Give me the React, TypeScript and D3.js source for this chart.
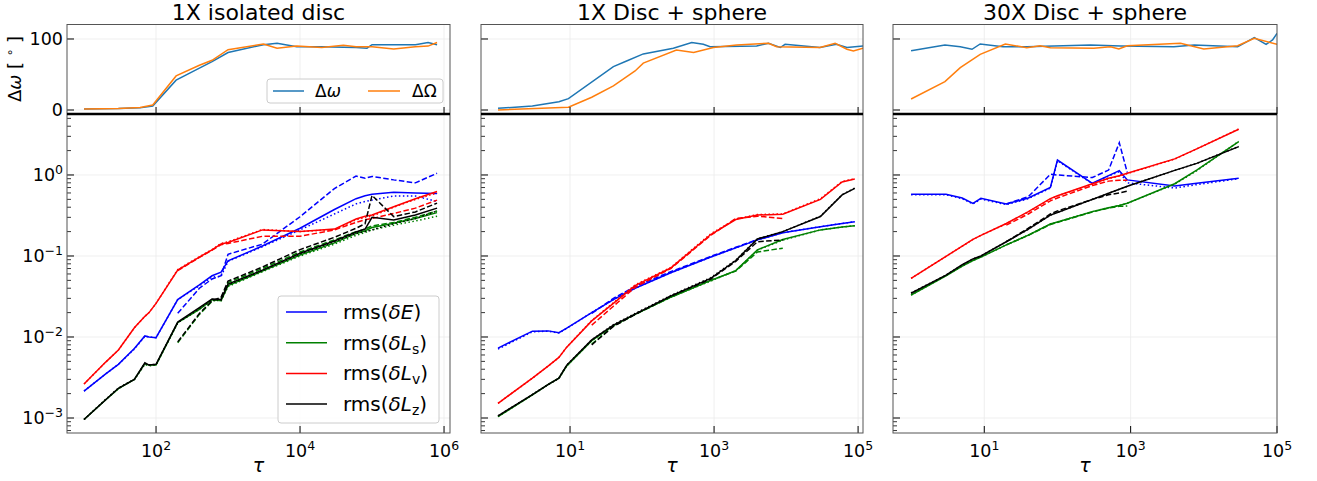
import React from 'react'
import * as d3 from 'd3'

// ---- data: panel 1 (1X isolated disc) ----
const tau1 = [10, 20, 30, 50, 70, 80, 100, 200, 400, 600, 800, 1000, 3000, 1e4, 3e4, 6e4, 8e4, 1e5, 2e5, 4e5, 8e5]
const E1 = [2.15e-3, 3.5e-3, 4.6e-3, 7.2e-3, 1.03e-2, 1.0e-2, 9.8e-3, 2.9e-2, 4.4e-2, 5.7e-2, 6.3e-2, 8.7e-2, 0.133, 0.22, 0.375, 0.51, 0.555, 0.58, 0.61, 0.6, 0.59]
const E1d = [null, null, null, null, null, null, null, 0.0196, 0.04, 0.052, 0.057, 0.105, 0.14, 0.305, 0.68, 0.97, 0.91, 0.96, 0.87, 0.8, 1.05]
const E1t = [2.15e-3, 3.5e-3, 4.6e-3, 7.1e-3, 1.02e-2, 1.0e-2, 9.8e-3, 2.9e-2, 4.3e-2, 5.5e-2, 5.6e-2, 8.6e-2, 0.13, 0.21, 0.33, 0.44, 0.47, 0.49, 0.55, 0.55, 0.47]
const S1 = [9.6e-4, 1.68e-3, 2.3e-3, 3.0e-3, 4.7e-3, 4.5e-3, 4.5e-3, 1.5e-2, 2.2e-2, 2.9e-2, 2.8e-2, 4.3e-2, 6.5e-2, 0.103, 0.145, 0.19, 0.205, 0.225, 0.253, 0.29, 0.343]
const S1d = [null, null, null, null, null, null, null, 8.5e-3, 1.9e-2, 2.75e-2, 3.0e-2, 4.7e-2, 7.0e-2, 0.112, 0.158, 0.2, 0.215, 0.235, 0.26, 0.3, 0.36]
const S1t = [9.6e-4, 1.68e-3, 2.3e-3, 3.0e-3, 4.6e-3, 4.4e-3, 4.5e-3, 1.5e-2, 2.2e-2, 2.85e-2, 2.8e-2, 4.2e-2, 6.4e-2, 0.1, 0.14, 0.18, 0.195, 0.21, 0.24, 0.27, 0.31]
const V1 = [2.63e-3, 4.9e-3, 6.9e-3, 1.3e-2, 1.8e-2, 2.0e-2, 2.6e-2, 6.7e-2, 9.7e-2, 0.119, 0.141, 0.147, 0.21, 0.2, 0.215, 0.286, 0.31, 0.32, 0.406, 0.51, 0.625]
const V1d = [null, null, null, null, null, null, null, 0.066, 0.096, 0.118, 0.138, 0.143, 0.175, 0.175, 0.21, 0.26, 0.28, 0.29, 0.335, 0.39, 0.49]
const V1t = [2.63e-3, 4.9e-3, 6.9e-3, 1.3e-2, 1.8e-2, 2.0e-2, 2.6e-2, 6.8e-2, 9.8e-2, 0.12, 0.143, 0.15, 0.212, 0.2, 0.212, 0.28, 0.3, 0.31, 0.4, 0.5, 0.6]
const Z1 = [9.6e-4, 1.68e-3, 2.33e-3, 3.0e-3, 4.8e-3, 4.5e-3, 4.6e-3, 1.53e-2, 2.3e-2, 2.95e-2, 2.9e-2, 4.5e-2, 6.7e-2, 0.108, 0.153, 0.198, 0.215, 0.3, 0.278, 0.32, 0.39]
const Z1d = [null, null, null, null, null, null, null, 8.7e-3, 1.95e-2, 2.8e-2, 3.1e-2, 4.9e-2, 7.3e-2, 0.12, 0.17, 0.22, 0.25, 0.56, 0.306, 0.35, 0.45]
const Z1t = [9.6e-4, 1.7e-3, 2.35e-3, 3.0e-3, 4.7e-3, 4.5e-3, 4.6e-3, 1.5e-2, 2.25e-2, 2.9e-2, 2.85e-2, 4.4e-2, 6.6e-2, 0.106, 0.15, 0.19, 0.2, 0.21, 0.25, 0.29, 0.36]

const tauTop1 = [10, 30, 60, 90, 190, 400, 600, 1000, 3100, 4800, 9000, 2e4, 4e4, 6e4, 8.5e4, 1e5, 2e5, 4e5, 6e5, 8e5]
const dw1 = [1.5, 2, 3, 5.6, 42, 59, 68, 81, 92, 94, 89, 89, 88.5, 88, 87, 92, 92, 92, 95, 92]
const dO1 = [1.5, 2, 3.5, 7, 48, 63, 70, 85, 93, 87, 90, 88, 91, 89, 89, 89, 86, 89, 90, 95]

// ---- data: panel 2 (1X Disc + sphere) ----
const tau2 = [1, 3, 5, 7, 9, 20, 40, 80, 250, 900, 2000, 4000, 9000, 30000, 60000, 90000]
const E2 = [7.3e-3, 1.18e-2, 1.19e-2, 1.13e-2, 1.29e-2, 2.0e-2, 2.9e-2, 4.0e-2, 6.2e-2, 9.7e-2, 0.126, 0.158, 0.194, 0.23, 0.252, 0.265]
const E2d = [null, null, null, null, null, 1.95e-2, 3.0e-2, 4.2e-2, 6.4e-2, 0.099, 0.128, 0.16, 0.196, null, null, null]
const E2t = [7.1e-3, 1.16e-2, 1.18e-2, 1.12e-2, 1.28e-2, 2.0e-2, 2.9e-2, 4.0e-2, 6.2e-2, 9.7e-2, 0.126, 0.158, 0.194, 0.23, 0.252, 0.265]
const S2 = [1.04e-3, 1.93e-3, 2.6e-3, 3.1e-3, 4.4e-3, 9.0e-3, 1.38e-2, 1.9e-2, 3.1e-2, 5.0e-2, 6.6e-2, 0.119, 0.16, 0.21, 0.228, 0.237]
const S2d = [null, null, null, null, null, 8.2e-3, 1.36e-2, 1.9e-2, 3.1e-2, 5.0e-2, 6.5e-2, 0.112, 0.125, null, null, null]
const S2t = [1.04e-3, 1.93e-3, 2.6e-3, 3.1e-3, 4.4e-3, 9.0e-3, 1.38e-2, 1.9e-2, 3.1e-2, 4.9e-2, 6.6e-2, 0.118, 0.157, 0.21, 0.228, 0.237]
const V2 = [1.52e-3, 3.1e-3, 4.4e-3, 5.6e-3, 7.5e-3, 1.58e-2, 2.6e-2, 4.3e-2, 7.1e-2, 0.184, 0.282, 0.32, 0.328, 0.5, 0.82, 0.89]
const V2d = [null, null, null, null, null, 1.4e-2, 2.4e-2, 4.1e-2, 7.0e-2, 0.18, 0.29, 0.31, 0.29, null, null, null]
const V2t = [1.52e-3, 3.1e-3, 4.4e-3, 5.6e-3, 7.5e-3, 1.6e-2, 2.65e-2, 4.4e-2, 7.2e-2, 0.188, 0.285, 0.325, 0.33, 0.51, 0.83, 0.9]
const Z2 = [1.06e-3, 1.95e-3, 2.6e-3, 3.1e-3, 4.5e-3, 9.2e-3, 1.4e-2, 1.92e-2, 3.2e-2, 5.3e-2, 8.8e-2, 0.162, 0.2, 0.307, 0.567, 0.685]
const Z2d = [null, null, null, null, null, 8.0e-3, 1.35e-2, 1.9e-2, 3.2e-2, 5.2e-2, 8.6e-2, 0.15, 0.158, null, null, null]
const Z2t = [1.06e-3, 1.95e-3, 2.6e-3, 3.1e-3, 4.5e-3, 9.2e-3, 1.42e-2, 1.95e-2, 3.25e-2, 5.4e-2, 8.9e-2, 0.163, 0.2, 0.31, 0.57, 0.69]

const dwTau2 = [1, 3, 7, 9.5, 40, 61, 104, 272, 490, 710, 880, 3900, 5700, 8300, 9700, 29500, 50000, 70000, 117000]
const dw2 = [2.4, 5.6, 11.7, 16, 61, 69, 79, 87, 95, 92.5, 89, 90, 94, 88, 92.5, 88, 92.5, 88, 90]
const dOTau2 = [1, 9.5, 20, 40, 80, 104, 300, 520, 980, 2060, 5700, 7400, 29500, 48000, 70000, 86000, 117000]
const dO2 = [0, 3.8, 18, 34, 55, 66, 84.5, 81, 88, 91.5, 94, 89, 88, 94, 85.5, 83, 87]

// ---- data: panel 3 (30X Disc + sphere) ----
const tau3 = [1, 3, 5, 7, 9, 20, 40, 80, 100, 300, 500, 700, 900, 4000, 8000, 30000]
const E3 = [0.577, 0.577, 0.52, 0.445, 0.515, 0.438, 0.52, 0.7, 1.53, 0.79, 0.98, 1.13, 0.87, 0.73, 0.79, 0.91]
const E3d = [null, null, null, null, null, 0.438, 0.54, 1.02, 1.0, 0.93, 1.15, 2.5, 1.07, null, null, null]
const E3t = [0.57, 0.57, 0.51, 0.44, 0.505, 0.43, 0.51, 0.69, 1.5, 0.78, 0.97, 1.1, 0.8, 0.69, 0.76, 0.9]
const S3 = [0.033, 0.057, 0.075, 0.088, 0.097, 0.137, 0.181, 0.248, 0.263, 0.353, 0.395, 0.42, 0.447, 0.78, 1.15, 2.58]
const S3d = [null, null, null, null, null, 0.137, 0.18, 0.245, 0.26, 0.35, 0.39, 0.41, 0.415, null, null, null]
const S3t = [0.033, 0.057, 0.075, 0.088, 0.097, 0.137, 0.181, 0.248, 0.263, 0.353, 0.395, 0.42, 0.447, 0.77, 1.13, 2.6]
const V3 = [0.053, 0.099, 0.132, 0.16, 0.18, 0.252, 0.353, 0.51, 0.553, 0.78, 0.91, 0.98, 1.05, 1.58, 2.1, 3.67]
const V3d = [null, null, null, null, null, 0.24, 0.33, 0.48, 0.52, 0.74, 0.84, 0.86, 0.86, null, null, null]
const V3t = [0.053, 0.099, 0.132, 0.16, 0.18, 0.25, 0.35, 0.505, 0.55, 0.77, 0.9, 0.97, 1.04, 1.57, 2.1, 3.7]
const Z3 = [0.0347, 0.058, 0.078, 0.092, 0.1, 0.15, 0.214, 0.32, 0.345, 0.5, 0.594, 0.666, 0.725, 1.14, 1.39, 2.24]
const Z3d = [null, null, null, null, null, 0.15, 0.22, 0.33, 0.36, 0.5, 0.57, 0.6, 0.63, null, null, null]
const Z3t = [0.035, 0.058, 0.078, 0.092, 0.1, 0.15, 0.214, 0.32, 0.345, 0.5, 0.594, 0.666, 0.725, 1.14, 1.39, 2.25]

const dwTau3 = [1, 2.9, 4.7, 6.8, 8.8, 18, 38, 283, 730, 3900, 7400, 29000, 49000, 71000, 87000, 100000]
const dw3 = [83.5, 91.5, 89, 85.5, 93, 89, 89, 91.5, 90, 89, 91.5, 89, 102, 92.5, 98.6, 108]
const dOTau3 = [1, 2.9, 4.7, 8.8, 19.4, 38, 58, 80, 314, 530, 690, 900, 4800, 10000, 29000, 49000, 100000]
const dO3 = [15.5, 40, 59.6, 78.4, 93, 87.7, 90.5, 87.7, 87, 89, 86, 90.5, 94, 86, 90.5, 101, 92.5]

const titles = ['1X isolated disc', '1X Disc + sphere', '30X Disc + sphere']
const xTicks = [[1e2, 1e4, 1e6], [1e1, 1e3, 1e5], [1e1, 1e3, 1e5]]
const yTicksBottom = [1e-3, 1e-2, 1e-1, 1]
const yTicksTop = [0, 100]

// ---- layout ----
const W = 1317
const H = 481
const TOP_Y0 = 24.5
const MID_Y = 114
const BOT_Y1 = 433
const FONT = "'DejaVu Sans', sans-serif"
const SPINE = '#555'
const GRID = '#ebebeb'
const TICK_FS = 17.5
const SUP_FS = 12.5

const panels = [
  { x0: 67, x1: 450, xDom: [5.8, 1.21e6], tau: tau1, E: [E1, E1d, E1t], S: [S1, S1d, S1t], V: [V1, V1d, V1t], Z: [Z1, Z1d, Z1t], top: [[tauTop1, dw1], [tauTop1, dO1]] },
  { x0: 481, x1: 863, xDom: [0.58, 1.17e5], tau: tau2, E: [E2, E2d, E2t], S: [S2, S2d, S2t], V: [V2, V2d, V2t], Z: [Z2, Z2d, Z2t], top: [[dwTau2, dw2], [dOTau2, dO2]] },
  { x0: 893, x1: 1277, xDom: [0.566, 1e5], tau: tau3, E: [E3, E3d, E3t], S: [S3, S3d, S3t], V: [V3, V3d, V3t], Z: [Z3, Z3d, Z3t], top: [[dwTau3, dw3], [dOTau3, dO3]] },
]

const seriesColors: Record<string, string> = { E: '#0000ff', S: '#008000', V: '#ff0000', Z: '#000000' }
const dashes = [null, '5.5,2.4', '1.5,2.5']
const topColors = ['#1f77b4', '#ff7f0e']

const yb = d3.scaleLog().domain([6.53e-4, 5.66]).range([BOT_Y1, MID_Y])
const yt = d3.scaleLinear().domain([-5.63, 120.4]).range([MID_Y, TOP_Y0])

const minorY: number[] = []
for (let e = -4; e <= 0; e++) {
  for (let k = 2; k <= 9; k++) {
    const v = k * Math.pow(10, e)
    if (v > 6.53e-4 && v < 5.66) minorY.push(v)
  }
}

function Pow({ x, y, exp, anchor }: { x: number; y: number; exp: number; anchor: string }) {
  const s = exp < 0 ? '\u2212' + Math.abs(exp) : String(exp)
  return (
    <text x={x} y={y} textAnchor={anchor} fontSize={TICK_FS} fontFamily={FONT} fill='#000'>
      10<tspan dy={-7.5} fontSize={SUP_FS}>{s}</tspan>
    </text>
  )
}

function Panel({ p, i }: { p: any; i: number }) {
  const x = d3.scaleLog().domain(p.xDom).range([p.x0, p.x1])
  const lineB = d3.line<[number, number | null]>()
    .defined(d => d[1] != null)
    .x(d => x(d[0]))
    .y(d => yb(d[1] as number))
  const lineT = d3.line<[number, number]>()
    .x(d => x(d[0]))
    .y(d => yt(d[1]))
  const cx = (p.x0 + p.x1) / 2

  return (
    <g>
      <defs>
        <clipPath id={'clipB' + i}><rect x={p.x0} y={MID_Y} width={p.x1 - p.x0} height={BOT_Y1 - MID_Y} /></clipPath>
        <clipPath id={'clipT' + i}><rect x={p.x0} y={TOP_Y0} width={p.x1 - p.x0} height={MID_Y - TOP_Y0} /></clipPath>
      </defs>

      {/* grid */}
      {xTicks[i].map(t => (
        <line key={'gx' + t} x1={x(t)} x2={x(t)} y1={TOP_Y0} y2={BOT_Y1} stroke={GRID} strokeWidth={0.8} />
      ))}
      {yTicksBottom.map(t => (
        <line key={'gyb' + t} x1={p.x0} x2={p.x1} y1={yb(t)} y2={yb(t)} stroke={GRID} strokeWidth={0.8} />
      ))}
      {yTicksTop.map(t => (
        <line key={'gyt' + t} x1={p.x0} x2={p.x1} y1={yt(t)} y2={yt(t)} stroke={GRID} strokeWidth={0.8} />
      ))}

      {/* top: precession angles */}
      <g clipPath={`url(#clipT${i})`}>
        {p.top.map((s: number[][], k: number) => (
          <path key={k} d={lineT(s[0].map((t, j) => [t, s[1][j]]) as [number, number][]) || ''}
            fill='none' stroke={topColors[k]} strokeWidth={1.5} />
        ))}
      </g>

      {/* bottom: rms curves */}
      <g clipPath={`url(#clipB${i})`}>
        {['E', 'S', 'V', 'Z'].map(key =>
          p[key].map((vals: (number | null)[], k: number) => (
            <path key={key + k} d={lineB(p.tau.map((t: number, j: number) => [t, vals[j]])) || ''}
              fill='none' stroke={seriesColors[key]} strokeWidth={1.5}
              strokeDasharray={dashes[k] || undefined} />
          ))
        )}
      </g>

      {/* ticks */}
      {xTicks[i].map(t => (
        <g key={'tx' + t}>
          <line x1={x(t)} x2={x(t)} y1={BOT_Y1} y2={BOT_Y1 - 7} stroke='#000' />
          <line x1={x(t)} x2={x(t)} y1={MID_Y} y2={MID_Y - 7} stroke='#000' />
          <Pow x={x(t)} y={457} exp={Math.round(Math.log10(t))} anchor='middle' />
        </g>
      ))}
      {yTicksBottom.map(t => (
        <line key={'tyb' + t} x1={p.x0} x2={p.x0 + 7} y1={yb(t)} y2={yb(t)} stroke='#000' />
      ))}
      {minorY.map(t => (
        <line key={'mnb' + t} x1={p.x0} x2={p.x0 + 4} y1={yb(t)} y2={yb(t)} stroke='#000' strokeWidth={0.8} />
      ))}
      {yTicksTop.map(t => (
        <line key={'tyt' + t} x1={p.x0} x2={p.x0 + 7} y1={yt(t)} y2={yt(t)} stroke='#000' />
      ))}

      {i === 0 && yTicksBottom.map(t => (
        <Pow key={'lb' + t} x={63} y={yb(t) + 6.4} exp={Math.round(Math.log10(t))} anchor='end' />
      ))}
      {i === 0 && yTicksTop.map(t => (
        <text key={'lt' + t} x={63} y={yt(t) + 6.4} textAnchor='end' fontSize={TICK_FS} fontFamily={FONT}>{t}</text>
      ))}

      {/* spines */}
      <rect x={p.x0} y={TOP_Y0} width={p.x1 - p.x0} height={BOT_Y1 - TOP_Y0} fill='none' stroke={SPINE} strokeWidth={1} />
      <line x1={p.x0} x2={p.x1} y1={MID_Y} y2={MID_Y} stroke='#000' strokeWidth={2.5} />

      {/* titles and labels */}
      <text x={cx} y={20} textAnchor='middle' fontSize={22} fontFamily={FONT}>{titles[i]}</text>
      <text x={cx} y={472} textAnchor='middle' fontSize={19} fontFamily={FONT} fontStyle='italic'>τ</text>
    </g>
  )
}

function TopLegend() {
  return (
    <g fontFamily={FONT} fontSize={17}>
      <rect x={267} y={79} width={176} height={24} rx={3} fill='#fff' fillOpacity={0.8} stroke='#cccccc' />
      <line x1={273} x2={304} y1={91} y2={91} stroke={topColors[0]} strokeWidth={1.5} />
      <text x={315} y={97}>Δ<tspan fontStyle='italic'>ω</tspan></text>
      <line x1={368} x2={400} y1={91} y2={91} stroke={topColors[1]} strokeWidth={1.5} />
      <text x={412} y={97}>ΔΩ</text>
    </g>
  )
}

const legendRows = [
  { key: 'E', sym: 'E', sub: '' },
  { key: 'S', sym: 'L', sub: 's' },
  { key: 'V', sym: 'L', sub: 'v' },
  { key: 'Z', sym: 'L', sub: 'z' },
]

function BottomLegend() {
  return (
    <g fontFamily={FONT} fontSize={20}>
      <rect x={278} y={296} width={161} height={127} rx={3} fill='#fff' fillOpacity={0.8} stroke='#cccccc' />
      {legendRows.map((r, k) => {
        const y = 312 + k * 30.7
        return (
          <g key={r.key}>
            <line x1={286} x2={327} y1={y} y2={y} stroke={seriesColors[r.key]} strokeWidth={1.5} />
            <text x={343} y={y + 7}>
              rms(<tspan fontStyle='italic'>δ{r.sym}</tspan>
              {r.sub && <tspan fontSize={14} dy={4}>{r.sub}</tspan>}
              {r.sub ? <tspan dy={-4}>)</tspan> : ')'}
            </text>
          </g>
        )
      })}
    </g>
  )
}

export default function App() {
  return (
    <svg width={W} height={H} style={{ position: 'absolute', left: 0, top: 0, background: '#fff' }}>
      {panels.map((p, i) => <Panel key={i} p={p} i={i} />)}
      <TopLegend />
      <BottomLegend />
      <text transform='translate(21,69) rotate(-90)' textAnchor='middle' fontSize={18} fontFamily={FONT}>
        Δ<tspan fontStyle='italic'>ω</tspan> [ <tspan dy={-7} fontSize={12}>∘</tspan><tspan dy={7}> ]</tspan>
      </text>
    </svg>
  )
}
